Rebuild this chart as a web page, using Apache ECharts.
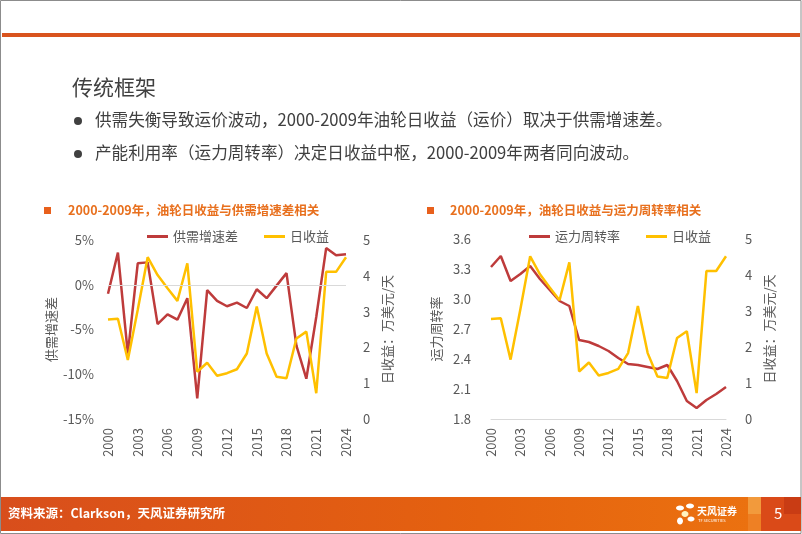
<!DOCTYPE html>
<html>
<head>
<meta charset="utf-8">
<script src="https://cdn.jsdelivr.net/npm/echarts@6/dist/echarts.min.js"></script>
<style>
html,body{margin:0;padding:0;background:#fff;}
#c{width:802px;height:534px;}
</style>
</head>
<body>
<div id="c"></div>
<script>
// ---- data ----
const years = ['2000','2001','2002','2003','2004','2005','2006','2007','2008','2009','2010','2011','2012','2013','2014','2015','2016','2017','2018','2019','2020','2021','2022','2023','2024'];
const supplyDemandGap = [-1.0, 3.6, -7.7, 2.4, 2.5, -4.4, -3.3, -3.9, -1.5, -12.7, -0.6, -1.8, -2.4, -2.0, -2.6, -0.5, -1.5, -0.1, 1.3, -6.8, -10.5, -3.6, 4.1, 3.3, 3.4];
const dailyEarnings = [2.78, 2.80, 1.65, 3.05, 4.52, 4.02, 3.65, 3.30, 4.35, 1.32, 1.57, 1.21, 1.28, 1.39, 1.83, 3.14, 1.83, 1.18, 1.14, 2.25, 2.44, 0.72, 4.11, 4.11, 4.52];
const turnoverRate = [3.32, 3.43, 3.18, 3.25, 3.33, 3.20, 3.09, 2.98, 2.93, 2.59, 2.57, 2.53, 2.48, 2.41, 2.35, 2.34, 2.32, 2.30, 2.34, 2.18, 1.98, 1.91, 1.99, 2.05, 2.12];

const slideTitle = '传统框架';
const bullets = ['供需失衡导致运价波动，2000-2009年油轮日收益（运价）取决于供需增速差。',
                 '产能利用率（运力周转率）决定日收益中枢，2000-2009年两者同向波动。'];
const chartTitles = ['2000-2009年，油轮日收益与供需增速差相关', '2000-2009年，油轮日收益与运力周转率相关'];
const sourceText = '资料来源：Clarkson，天风证券研究所';

const FONT = '"Noto Sans CJK SC", "Noto Sans", sans-serif';
const RED = '#BE3B3B', GOLD = '#FFC000', GRAY = '#595959';

const chart = echarts.init(document.getElementById('c'), null, {renderer:'canvas'});

const axisLabel = {fontSize:13, color:GRAY, fontFamily:FONT};
const xAxisBase = (gi, showLine) => ({
  gridIndex: gi, type:'category', data: years, boundaryGap:false,
  axisLine:{show:showLine, onZero:false, lineStyle:{color:'#D9D9D9', width:1}},
  axisTick:{show:false},
  axisLabel:Object.assign({rotate:90, interval:2, margin:9}, axisLabel),
  splitLine:{show:false}
});
const nameStyle = {fontSize:13, color:GRAY, fontFamily:FONT};

const option = {
  animation:false,
  textStyle:{fontFamily:FONT},
  grid:[
    {left:108, top:240, width:238, height:179, containLabel:false},
    {left:491, top:239, width:235, height:180, containLabel:false}
  ],
  legend:[
    {left:147, top:230, padding:0, itemWidth:21, itemHeight:3, icon:'rect', itemGap:26,
     data:['供需增速差','日收益'], textStyle:{fontSize:13, color:GRAY, fontFamily:FONT}},
    {left:529, top:230, padding:0, itemWidth:21, itemHeight:3, icon:'rect', itemGap:26,
     data:['运力周转率','日收益'], textStyle:{fontSize:13, color:GRAY, fontFamily:FONT}}
  ],
  xAxis:[ xAxisBase(0,false), xAxisBase(1,true) ],
  yAxis:[
    {gridIndex:0, type:'value', min:-15, max:5, interval:5, position:'left',
     axisLine:{show:false}, axisTick:{show:false}, splitLine:{show:false},
     axisLabel:Object.assign({formatter:v=>v+'%', margin:14}, axisLabel),
     name:'供需增速差', nameLocation:'middle', nameRotate:90, nameGap:50, nameTextStyle:nameStyle},
    {gridIndex:0, type:'value', min:0, max:5, interval:1, position:'right',
     axisLine:{show:false}, axisTick:{show:false}, splitLine:{show:false},
     axisLabel:Object.assign({margin:17}, axisLabel),
     name:'日收益：万美元/天', nameLocation:'middle', nameRotate:90, nameGap:35, nameTextStyle:nameStyle},
    {gridIndex:1, type:'value', min:1.8, max:3.6, interval:0.3, position:'left',
     axisLine:{show:false}, axisTick:{show:false}, splitLine:{show:false},
     axisLabel:Object.assign({formatter:v=>v.toFixed(1), margin:20}, axisLabel),
     name:'运力周转率', nameLocation:'middle', nameRotate:90, nameGap:48, nameTextStyle:nameStyle},
    {gridIndex:1, type:'value', min:0, max:5, interval:1, position:'right',
     axisLine:{show:false}, axisTick:{show:false}, splitLine:{show:false},
     axisLabel:Object.assign({margin:19}, axisLabel),
     name:'日收益：万美元/天', nameLocation:'middle', nameRotate:90, nameGap:37, nameTextStyle:nameStyle}
  ],
  series:[
    {type:'line', name:'供需增速差', xAxisIndex:0, yAxisIndex:0, data:supplyDemandGap,
     symbol:'none', color:RED, lineStyle:{width:2.5, color:RED},
     markLine:{silent:true, symbol:'none', label:{show:false}, lineStyle:{color:'#D9D9D9', width:1, type:'solid'},
       data:[{yAxis:0}]}},
    {type:'line', name:'日收益', xAxisIndex:0, yAxisIndex:1, data:dailyEarnings,
     symbol:'none', color:GOLD, lineStyle:{width:2.5, color:GOLD}},
    {type:'line', name:'运力周转率', xAxisIndex:1, yAxisIndex:2, data:turnoverRate,
     symbol:'none', color:RED, lineStyle:{width:2.5, color:RED}},
    {type:'line', name:'日收益', xAxisIndex:1, yAxisIndex:3, data:dailyEarnings,
     symbol:'none', color:GOLD, lineStyle:{width:2.5, color:GOLD}}
  ],
  graphic:[
    // slide frame
    {type:'rect', shape:{x:0.5, y:0.5, width:800.5, height:533}, style:{fill:'none', stroke:'#8C8C8C', lineWidth:1}, silent:true, z:-1},
    // top orange bar
    {type:'rect', shape:{x:2, y:33, width:798, height:4}, style:{fill:'#D9541E'}, silent:true},
    // slide title
    {type:'text', left:72, top:77, style:{text:slideTitle, font:'21px '+FONT, fill:'#404040'}},
    // bullets
    {type:'circle', shape:{cx:78, cy:121, r:4}, style:{fill:'#404040'}},
    {type:'text', left:95, top:111, style:{text:bullets[0], font:'16.6px '+FONT, fill:'#404040'}},
    {type:'circle', shape:{cx:78, cy:154, r:4}, style:{fill:'#404040'}},
    {type:'text', left:95, top:144, style:{text:bullets[1], font:'16.6px '+FONT, fill:'#404040'}},
    // chart titles
    {type:'rect', shape:{x:44, y:207, width:7, height:7}, style:{fill:'#E8601C'}},
    {type:'text', left:68, top:204, style:{text:chartTitles[0], font:'bold 12.5px '+FONT, fill:'#E8701E'}},
    {type:'rect', shape:{x:427, y:207, width:7, height:7}, style:{fill:'#E8601C'}},
    {type:'text', left:450, top:204, style:{text:chartTitles[1], font:'bold 12.5px '+FONT, fill:'#E8701E'}},
    // footer bar
    {type:'rect', shape:{x:1, y:497, width:800, height:34},
     style:{fill:new echarts.graphic.LinearGradient(0,0,1,0,[{offset:0,color:'#D84E1C'},{offset:0.6,color:'#E5620F'},{offset:1,color:'#EC7410'}])}, silent:true},
    {type:'rect', shape:{x:748, y:497, width:13, height:17}, style:{fill:'#F29A3C'}},
    {type:'rect', shape:{x:748, y:514, width:13, height:17}, style:{fill:'#EE8024'}},
    {type:'rect', shape:{x:761, y:497, width:40, height:34}, style:{fill:'#DA4A18'}},
    {type:'rect', shape:{x:784, y:497, width:17, height:17}, style:{fill:'#C93C14'}},
    {type:'text', left:774, top:506, style:{text:'5', font:'15px '+FONT, fill:'#FFFFFF'}},
    {type:'text', left:8, top:507, style:{text:sourceText, font:'bold 12.5px '+FONT, fill:'#FFFFFF'}},
    // logo
    {type:'ellipse', shape:{cx:680, cy:508, rx:4, ry:2.5}, style:{fill:'#FFFFFF'}},
    {type:'ellipse', shape:{cx:690, cy:506, rx:4, ry:2.5}, style:{fill:'#FFFFFF'}},
    {type:'ellipse', shape:{cx:685, cy:514, rx:3.5, ry:3}, style:{fill:'#FFF3C0'}},
    {type:'ellipse', shape:{cx:680, cy:521, rx:3, ry:3.5}, style:{fill:'#FFFFFF'}},
    {type:'ellipse', shape:{cx:691, cy:519, rx:3.5, ry:2.5}, style:{fill:'#FFFFFF'}},
    {type:'text', left:697, top:506, style:{text:'天风证券', font:'bold 10px '+FONT, fill:'#FFFFFF'}},
    {type:'text', left:698, top:518, style:{text:'TF SECURITIES', font:'4px '+FONT, fill:'#FFFFFF'}}
  ]
};
chart.setOption(option);
</script>
</body>
</html>
